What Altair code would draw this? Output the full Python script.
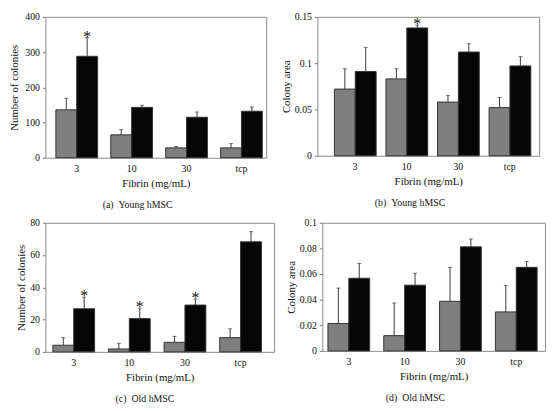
import altair as alt
import pandas as pd

cats = ["3", "10", "30", "tcp"]
groups = ["gray", "black"]

# Panel (a) Young hMSC - number of colonies
a_gray = [136, 65, 28, 28]
a_gray_sd = [33, 15, 4, 12]
a_black = [288, 143, 115, 132]
a_black_sd = [53, 6, 15, 12]
a_star = [1, 0, 0, 0]

# Panel (b) Young hMSC - colony area
b_gray = [0.072, 0.083, 0.058, 0.052]
b_gray_sd = [0.022, 0.011, 0.007, 0.011]
b_black = [0.091, 0.138, 0.112, 0.097]
b_black_sd = [0.026, 0.003, 0.009, 0.010]
b_star = [0, 1, 0, 0]

# Panel (c) Old hMSC - number of colonies
c_gray = [4.1, 1.8, 5.9, 8.8]
c_gray_sd = [4.7, 3.5, 3.7, 5.5]
c_black = [26.7, 20.6, 29.0, 68.2]
c_black_sd = [7.2, 6.5, 3.7, 6.3]
c_star = [1, 1, 1, 0]

# Panel (d) Old hMSC - colony area
d_gray = [0.0214, 0.0119, 0.0387, 0.0304]
d_gray_sd = [0.0276, 0.0255, 0.0265, 0.0206]
d_black = [0.0567, 0.0513, 0.0812, 0.0652]
d_black_sd = [0.0116, 0.0093, 0.0062, 0.0046]
d_star = [0, 0, 0, 0]

FONT = "Liberation Serif"


def make_df(gray, gray_sd, black, black_sd, star):
    rows = []
    for i, c in enumerate(cats):
        rows.append({"cat": c, "grp": "gray", "val": gray[i], "err": gray[i] + gray_sd[i], "star": 0})
        rows.append({"cat": c, "grp": "black", "val": black[i], "err": black[i] + black_sd[i], "star": star[i]})
    return pd.DataFrame(rows)


def panel(df, ymax, yvals, ytitle, caption, width, height, pin, pout, align, ext, tpad):
    base = alt.Chart(df)
    x = alt.X(
        "cat:N", sort=cats,
        scale=alt.Scale(paddingInner=pin, paddingOuter=pout, align=align),
        axis=alt.Axis(title="Fibrin (mg/mL)", labelAngle=0, ticks=False, domain=False,
                      labelPadding=6, titlePadding=4, labelFont=FONT, titleFont=FONT,
                      labelFontSize=10, titleFontSize=11, titleFontWeight="normal",
                      labelColor="#111", titleColor="#111"),
    )
    xo = alt.XOffset("grp:N", sort=groups, scale=alt.Scale(paddingInner=0, paddingOuter=0))
    yscale = alt.Scale(domain=[0, ymax], nice=False, zero=True)
    yaxis = alt.Axis(title=ytitle, values=yvals, labelExpr="'' + datum.value", grid=False,
                     domain=False, tickSize=3, tickColor="#777", labelPadding=3,
                     labelOverlap=False, minExtent=ext, maxExtent=ext, titlePadding=tpad,
                     labelFont=FONT, titleFont=FONT, labelFontSize=10, titleFontSize=11,
                     titleFontWeight="normal", labelColor="#111", titleColor="#111")
    bars = base.mark_bar(stroke="#333", strokeWidth=1).encode(
        x=x, xOffset=xo, y=alt.Y("val:Q", scale=yscale, axis=yaxis),
        color=alt.Color("grp:N", scale=alt.Scale(domain=groups, range=["#7f7f7f", "#060606"]), legend=None),
    )
    rules = base.mark_rule(color="#3a3a3a", strokeWidth=1).encode(
        x=x, xOffset=xo, y=alt.Y("val:Q", scale=yscale, axis=yaxis), y2="err:Q"
    )
    caps = base.mark_tick(color="#3a3a3a", size=4, thickness=1).encode(
        x=x, xOffset=xo, y=alt.Y("err:Q", scale=yscale, axis=yaxis)
    )
    stars = base.transform_filter("datum.star == 1").mark_text(
        text="*", font=FONT, fontSize=16, baseline="alphabetic", dy=4, color="#111"
    ).encode(x=x, xOffset=xo, y=alt.Y("err:Q", scale=yscale, axis=yaxis))
    return alt.layer(bars, rules, caps, stars).properties(
        width=width, height=height,
        title=alt.TitleParams(caption, orient="bottom", anchor="middle", frame="bounds", offset=12),
    )


pa = panel(make_df(a_gray, a_gray_sd, a_black, a_black_sd, a_star), 400, [0, 100, 200, 300, 400],
           "Number of colonies", "(a)\u2002Young hMSC", 224, 143, 0.24, 0.13, 0.73, 20, 6)
pb = panel(make_df(b_gray, b_gray_sd, b_black, b_black_sd, b_star), 0.15, [0, 0.05, 0.1, 0.15],
           "Colony area", "(b)\u2002Young hMSC", 225, 141, 0.2, 0.25, 0.66, 22, 4)
pc = panel(make_df(c_gray, c_gray_sd, c_black, c_black_sd, c_star), 80, [0, 20, 40, 60, 80],
           "Number of colonies", "(c)\u2002Old hMSC", 232, 131, 0.25, 0.18, 0.37, 14, 5)
pd_ = panel(make_df(d_gray, d_gray_sd, d_black, d_black_sd, d_star), 0.1, [0, 0.02, 0.04, 0.06, 0.08, 0.1],
            "Colony area", "(d)\u2002Old hMSC", 226, 130, 0.25, 0.12, 0.42, 22, 4)

row1 = alt.hconcat(pa, pb, spacing=13)
row2 = alt.hconcat(pc, pd_, spacing=10)
chart = (
    alt.vconcat(row1, row2, spacing=6)
    .properties(padding=0, background="white")
    .configure_view(stroke="#8a8a8a", strokeWidth=1)
    .configure_axis(labelFont=FONT, titleFont=FONT, labelFontSize=10, titleFontSize=11,
                    titleFontWeight="normal", labelColor="#111", titleColor="#111")
    .configure_title(font=FONT, fontSize=10, fontWeight="normal", color="#111")
)

chart.save("out.html", embed_options={"renderer": "svg", "actions": False})
